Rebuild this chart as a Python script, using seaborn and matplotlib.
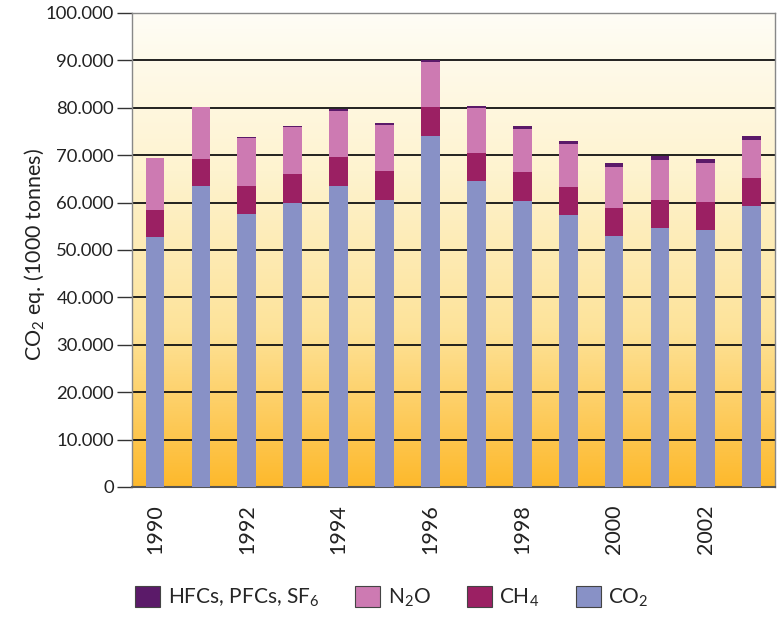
import numpy as np
import seaborn as sns
from matplotlib import pyplot as plt
from matplotlib.colors import LinearSegmentedColormap
from matplotlib.patches import Patch
from matplotlib.ticker import FuncFormatter

# emissions in 1000 tonnes CO2 eq.
years = [str(y) for y in range(1990, 2004)]
co2 = [52700, 63500, 57600, 59900, 63500, 60500, 74100, 64600, 60300, 57400, 53000, 54600, 54200, 59300]
ch4 = [5700, 5700, 5900, 6100, 6100, 6200, 6100, 5900, 6200, 5900, 5900, 5900, 5900, 5900]
n2o = [11000, 10900, 10100, 9900, 9700, 9700, 9500, 9500, 9000, 9100, 8600, 8500, 8300, 8000]
fgas = [0, 100, 200, 300, 400, 400, 300, 400, 700, 600, 900, 800, 800, 900]

labels = ["HFCs, PFCs, SF$_6$", "N$_2$O", "CH$_4$", "CO$_2$"]
colors = ["#5b1a69", "#cd7ab2", "#9b2063", "#8891c6"]

sns.set_style("white")
plt.rcParams["font.family"] = ["Lato", "DejaVu Sans"]
plt.rcParams["mathtext.fontset"] = "custom"
plt.rcParams["mathtext.rm"] = "Lato"
plt.rcParams["mathtext.it"] = "Lato"

fig = plt.figure(figsize=(7.77, 6.18), dpi=100)
ax = fig.add_axes([0.170, 0.212, 0.827, 0.767])

# stacked bars: draw cumulative totals from the top layer down
layers = [co2, ch4, n2o, fgas]
cum = np.cumsum(np.array(layers), axis=0)
for top, col in zip(cum[::-1], colors):
    sns.barplot(x=years, y=top, color=col, saturation=1, width=0.41,
                linewidth=0, ax=ax, zorder=3)

# background gradient
cmap = LinearSegmentedColormap.from_list("bg", ["#fdb92c", "#fde39a", "#fef3cf", "#fffdf6"])
grad = np.linspace(0, 1, 256).reshape(-1, 1)
ax.imshow(grad, extent=[0, 1, 0, 1], transform=ax.transAxes, origin="lower",
          aspect="auto", cmap=cmap, zorder=0)
ax.set_xlim(-0.5, 13.5)
ax.set_ylim(0, 100000)

ax.set_axisbelow(True)
ax.yaxis.grid(True, color="#111111", lw=1.3, zorder=1)
ax.xaxis.grid(False)

ax.set_yticks(range(0, 100001, 10000))
ax.yaxis.set_major_formatter(FuncFormatter(lambda v, p: f"{v:,.0f}".replace(",", ".")))
ax.tick_params(axis="y", left=True, length=11, width=1, color="#333333",
               labelsize=13.3, pad=2, labelcolor="#222222")
ax.set_xticks(range(0, 14, 2))
ax.set_xticklabels(years[::2], rotation=90, fontsize=15.5, color="#222222")
ax.tick_params(axis="x", bottom=False, pad=9)
ax.set_xlabel("")
ax.set_ylabel("CO$_2$ eq. (1000 tonnes)", fontsize=15.5, color="#222222")
ax.yaxis.set_label_coords(-0.132, 0.49)

for s in ["left", "right", "top"]:
    ax.spines[s].set_color("#888888")
    ax.spines[s].set_linewidth(1)
ax.spines["bottom"].set_color("#555555")
ax.spines["bottom"].set_linewidth(1.5)

handles = [Patch(facecolor=c, edgecolor="#444444", lw=0.8) for c in colors]
fig.legend(handles, labels, loc="lower left", bbox_to_anchor=(0.150, -0.016),
           ncol=4, frameon=False, fontsize=15, handlelength=1.2, handleheight=1.2,
           handletextpad=0.35, columnspacing=1.75)

fig.savefig("out.png", dpi=100)
